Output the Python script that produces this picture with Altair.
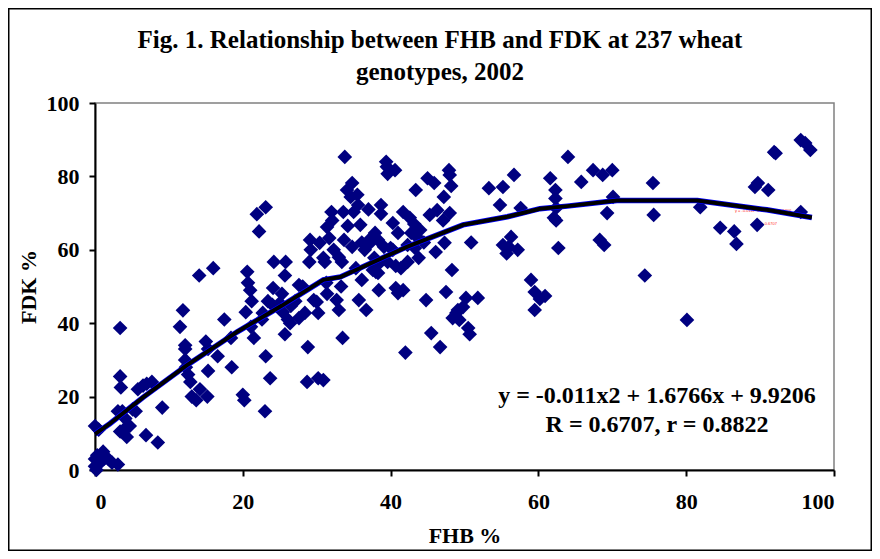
import altair as alt
import pandas as pd

# FHB % (x) and FDK % (y) of the wheat genotypes
fhb = [0, 0, 0.3, 0.7, 1.2, 1.8, 2.3, 3.1, 0, 0.5, 1.1, 0.2,
       3.4, 3.4, 3.5, 3.1, 3.7, 4.1, 3.4, 3.9, 4.3, 4.7, 5.1, 5.5,
       5.8, 6.5, 7.0, 7.7, 6.9, 8.5, 9.1, 11.5, 11.9, 12.2, 12.2, 12.2,
       12.3, 12.6, 12.9, 13.1, 13.7, 14.2, 14.1, 16.0, 15.0, 15.3, 15.3, 15.2,
       16.6, 17.5, 18.4, 18.5, 20.4, 20.0, 20.2, 20.6, 20.7, 21.0, 21.2, 21.1,
       21.5, 21.9, 22.2, 23.1, 22.7, 22.6, 23.0, 23.1, 23.7, 23.4, 24.0, 24.2,
       24.1, 25.0, 25.3, 25.7, 25.8, 25.4, 26.1, 25.7, 26.4, 26.5, 27.1, 27.6,
       27.6, 28.1, 28.4, 28.7, 28.8, 29.0, 29.1, 29.2, 29.6, 30.0, 30.2, 30.2,
       30.4, 30.9, 30.9, 31.1, 31.3, 31.4, 31.4, 31.7, 32.0, 32.1, 32.3, 32.7,
       33.0, 33.0, 33.3, 33.4, 33.5, 33.8, 33.6, 33.7, 34.1, 34.2, 34.6, 34.8,
       34.8, 35.0, 35.3, 35.5, 35.6, 35.7, 35.9, 36.1, 36.1, 36.5, 36.7, 37.0,
       37.1, 37.3, 37.6, 37.8, 38.0, 37.9, 38.3, 38.3, 38.4, 38.3, 38.7, 38.7,
       39.1, 39.4, 39.5, 39.6, 39.6, 40.0, 40.3, 40.3, 40.6, 40.7, 40.7, 41.0,
       41.0, 41.4, 41.7, 41.7, 42.0, 42.3, 42.3, 42.6, 42.8, 43.2, 43.3, 43.4,
       43.7, 43.8, 44.0, 44.5, 44.8, 45.0, 45.3, 45.5, 45.9, 46.1, 46.3, 46.7,
       47.1, 47.2, 47.3, 47.5, 47.9, 48.0, 48.2, 48.0, 48.3, 48.4, 48.9, 49.1,
       49.3, 49.8, 50.2, 50.5, 50.7, 50.9, 51.8, 53.3, 54.8, 55.2, 55.2, 55.7,
       56.0, 56.3, 56.7, 57.2, 57.6, 59.0, 59.5, 59.5, 60.2, 60.9, 61.6, 62.4,
       62.1, 62.3, 62.3, 62.4, 62.7, 64.0, 65.8, 67.4, 68.3, 68.7, 68.9, 69.3,
       70.0, 70.1, 74.4, 75.5, 75.6, 80.1, 81.9, 84.6, 86.5, 86.8, 89.3, 89.7,
       89.6, 91.1, 91.9, 92.1, 95.5, 96.1, 96.8, 95.5]
fdk = [1.0, 3.0, 4.0, 2.0, 3.0, 3.0, 2.0, 1.5, 12.0, 11.0, 5.0, 0.0,
       38.7, 25.5, 22.5, 16.0, 16.0, 14.0, 10.5, 11.0, 9.0, 12.0, 16.5, 16.0,
       22.0, 23.0, 23.5, 24.0, 9.5, 7.5, 17.0, 39.0, 43.5, 34.0, 33.0, 30.0,
       28.0, 26.0, 24.0, 20.0, 19.0, 22.0, 53.0, 55.0, 35.0, 33.0, 27.0, 20.0,
       31.0, 41.0, 36.0, 28.0, 43.0, 20.5, 19.0, 54.0, 51.0, 49.0, 46.0, 39.0,
       36.0, 69.7, 65.0, 71.6, 42.8, 41.0, 16.0, 31.0, 25.0, 46.0, 45.0, 56.7,
       49.6, 45.5, 48.0, 53.0, 56.7, 43.0, 41.0, 37.0, 40.0, 44.7, 46.0, 50.4,
       41.4, 50.0, 42.8, 24.0, 33.5, 56.7, 62.7, 60.0, 46.3, 45.8, 42.8, 25.0,
       61.9, 57.8, 24.5, 56.7, 51.0, 48.0, 66.2, 63.2, 70.3, 68.0, 60.0, 46.3,
       43.6, 58.0, 50.0, 56.7, 36.0, 85.3, 70.3, 62.7, 76.3, 66.5, 74.4, 78.2,
       60.8, 70.3, 55.0, 75.0, 72.2, 46.3, 66.8, 62.0, 51.8, 60.0, 43.6, 71.0,
       62.7, 62.0, 54.5, 57.8, 54.0, 64.6, 62.7, 53.7, 49.0, 56.0, 72.2, 69.8,
       60.8, 84.0, 82.6, 80.7, 56.7, 60.5, 67.3, 60.0, 81.7, 55.6, 49.6, 64.6,
       48.2, 55.0, 49.0, 70.3, 32.0, 61.3, 56.7, 68.7, 64.6, 67.0, 60.5, 76.3,
       63.2, 57.8, 65.4, 62.0, 46.3, 79.5, 69.5, 37.3, 78.2, 59.4, 70.8, 33.5,
       68.0, 74.4, 61.9, 48.5, 81.7, 80.4, 77.4, 70.0, 54.5, 41.4, 42.8, 43.6,
       40.9, 44.4, 46.9, 38.7, 37.0, 62.0, 46.9, 76.8, 72.2, 61.3, 77.1, 59.0,
       60.8, 63.5, 80.4, 60.0, 71.4, 51.8, 43.6, 48.5, 46.6, 47.4, 79.5, 68.0,
       68.7, 74.0, 76.3, 71.4, 60.5, 85.3, 78.5, 81.7, 62.7, 80.4, 61.3, 70.0,
       81.7, 74.4, 53.0, 78.2, 69.5, 40.9, 71.6, 66.0, 65.0, 61.6, 77.1, 78.2,
       66.8, 76.3, 86.6, 86.3, 89.9, 89.1, 87.2, 70.3]

# Polynomial trendline as drawn in the figure
trend_x = [0, 2, 6.5, 12.4, 19.2, 25.3, 30.9, 33.2, 42.2, 49.8, 55.8, 60.2, 63.9, 70.6, 81.5, 90.9, 97]
trend_y = [9.8, 12.6, 19.8, 28.5, 37.6, 44.8, 51.8, 52.6, 60.8, 66.8, 69.0, 71.2, 71.9, 73.4, 73.4, 70.9, 68.8]

title_lines = ["Fig. 1. Relationship between FHB and FDK at 237 wheat", "genotypes, 2002"]
eq_lines = ["y = -0.011x2 + 1.6766x + 9.9206", "R = 0.6707, r = 0.8822"]
tiny_lines = ["y = -0.011x² + 1.6766x + 9.9206", "R² = 0.6707"]

W, H = 739, 367
PL, PT, PR, PB = 87, 95, 38, 81
FONT = "Liberation Serif"

pts = pd.DataFrame({"FHB": fhb, "FDK": fdk})
trend = pd.DataFrame({"FHB": trend_x, "FDK": trend_y})

xscale = alt.Scale(domain=[0, 100], nice=False, zero=False)
yscale = alt.Scale(domain=[0, 100], nice=False, zero=False)

xaxis = alt.Axis(title="FHB %", values=[0, 20, 40, 60, 80, 100], grid=False,
                 labelFont=FONT, labelFontSize=22, labelFontWeight="bold", labelColor="black",
                 labelPadding=15, tickSize=6, tickWidth=2, tickColor="black",
                 domainColor="black", domainWidth=2,
                 titleFont=FONT, titleFontSize=22, titleFontWeight="bold", titleColor="black",
                 titlePadding=13)
yaxis = alt.Axis(title="FDK %", values=list(range(0, 101, 10)), grid=False,
                 labelFont=FONT, labelFontSize=22, labelFontWeight="bold", labelColor="black",
                 labelPadding=10, tickSize=6, tickWidth=2, tickColor="black",
                 domainColor="black", domainWidth=2,
                 titleFont=FONT, titleFontSize=22, titleFontWeight="bold", titleColor="black",
                 titlePadding=6)

scatter = alt.Chart(pts).mark_point(shape="diamond", filled=True, size=215, opacity=1,
                                    color="#000080").encode(
    x=alt.X("FHB:Q", scale=xscale, axis=xaxis),
    y=alt.Y("FDK:Q", scale=yscale, axis=yaxis),
)

trend_edge = alt.Chart(trend).mark_line(color="#0000ff", strokeWidth=5.5, interpolate="linear").encode(
    x=alt.X("FHB:Q", scale=xscale), y=alt.Y("FDK:Q", scale=yscale))
trend_line = alt.Chart(trend).mark_line(color="black", strokeWidth=4, interpolate="linear").encode(
    x=alt.X("FHB:Q", scale=xscale), y=alt.Y("FDK:Q", scale=yscale))

one = pd.DataFrame({"k": [0]})

border = alt.Chart(one).mark_rect(filled=False, stroke="black", strokeWidth=1.5).encode(
    x=alt.value(-PL + 0.75), x2=alt.value(W + PR - 0.75),
    y=alt.value(-PT + 0.75), y2=alt.value(H + PB - 0.75))

title1 = alt.Chart(one).mark_text(text=title_lines[0], font=FONT, fontSize=25, fontWeight="bold",
                                  align="center", baseline="middle", color="black").encode(
    x=alt.value(345), y=alt.value(-63))
title2 = alt.Chart(one).mark_text(text=title_lines[1], font=FONT, fontSize=25, fontWeight="bold",
                                  align="center", baseline="middle", color="black").encode(
    x=alt.value(345), y=alt.value(-31))

eq1 = alt.Chart(one).mark_text(text=eq_lines[0], font=FONT, fontSize=24, fontWeight="bold",
                               align="center", baseline="middle", color="black").encode(
    x=alt.value(562), y=alt.value(293))
eq2 = alt.Chart(one).mark_text(text=eq_lines[1], font=FONT, fontSize=24, fontWeight="bold",
                               align="center", baseline="middle", color="black").encode(
    x=alt.value(562), y=alt.value(322))

tiny1 = alt.Chart(one).mark_text(text=tiny_lines[0], font="Liberation Sans", fontSize=4,
                                 align="left", baseline="middle", color="#ff3030").encode(
    x=alt.value(640), y=alt.value(108))
tiny2 = alt.Chart(one).mark_text(text=tiny_lines[1], font="Liberation Sans", fontSize=4,
                                 align="left", baseline="middle", color="#ff3030").encode(
    x=alt.value(661), y=alt.value(121))

chart = alt.layer(border, title1, title2, eq1, eq2, tiny1, tiny2,
                  scatter, trend_edge, trend_line).properties(
    width=W, height=H,
    autosize=alt.AutoSizeParams(type="none"),
    padding={"left": PL, "top": PT, "right": PR, "bottom": PB},
    background="white",
).configure_view(stroke="#808080", strokeWidth=1.5)

chart.save("out.html", embed_options={"renderer": "svg", "actions": False})
